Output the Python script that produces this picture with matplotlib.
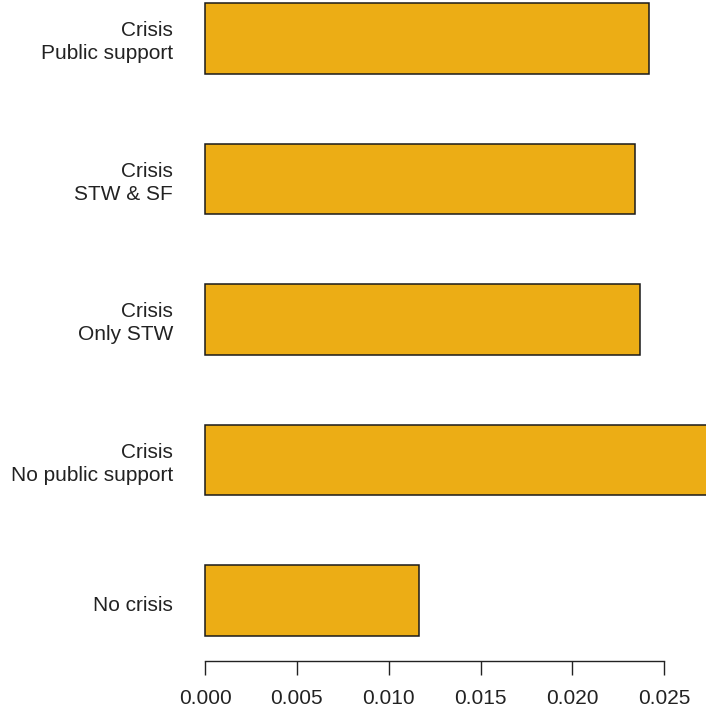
import matplotlib
matplotlib.use("Agg")
import matplotlib.pyplot as plt
from matplotlib.transforms import ScaledTranslation

# Scenario labels (bottom to top) and their values
labels = ["No crisis",
          "Crisis\nNo public support",
          "Crisis\nOnly STW",
          "Crisis\nSTW & SF",
          "Crisis\nPublic support"]
values = [0.01166, 0.0290, 0.02366, 0.02339, 0.02415]
tick_values = [0.000, 0.005, 0.010, 0.015, 0.020, 0.025]
tick_labels = ["0.000", "0.005", "0.010", "0.015", "0.020", "0.025"]

plt.rcParams["font.family"] = ["Liberation Sans", "DejaVu Sans"]

W, H = 706, 711
fig = plt.figure(figsize=(W / 100, H / 100), dpi=100)
ax = fig.add_axes([205 / W, 50 / H, 501 / W, 661 / H])

ypos = list(range(len(values)))
ax.barh(ypos, values, height=0.505, color="#ECAD15", edgecolor="#1a1a1a",
        linewidth=1.1, zorder=2, clip_on=False)

ax.set_xlim(0, 0.02727)
ax.set_ylim(-0.4306, 4.274)

for s in ["top", "right", "left"]:
    ax.spines[s].set_visible(False)
ax.spines["bottom"].set_bounds(tick_values[0], tick_values[-1])
ax.spines["bottom"].set_linewidth(1.0)
ax.spines["bottom"].set_color("#222222")

ax.set_xticks(tick_values)
ax.set_xticklabels(tick_labels, fontsize=15, color="#222222")
ax.tick_params(axis="x", length=10, width=1.0, color="#222222", pad=10)

ax.set_yticks(ypos)
ax.set_yticklabels(labels, fontsize=15, color="#222222", linespacing=1.25)
ax.tick_params(axis="y", length=0, pad=23)
for t in ax.get_yticklabels():
    t.set_horizontalalignment("right")
# the single-line label sits slightly below its bar centre
single = ax.get_yticklabels()[0]
single.set_transform(single.get_transform()
                     + ScaledTranslation(0, -3 / 100, fig.dpi_scale_trans))

fig.savefig("out.png", dpi=100)
